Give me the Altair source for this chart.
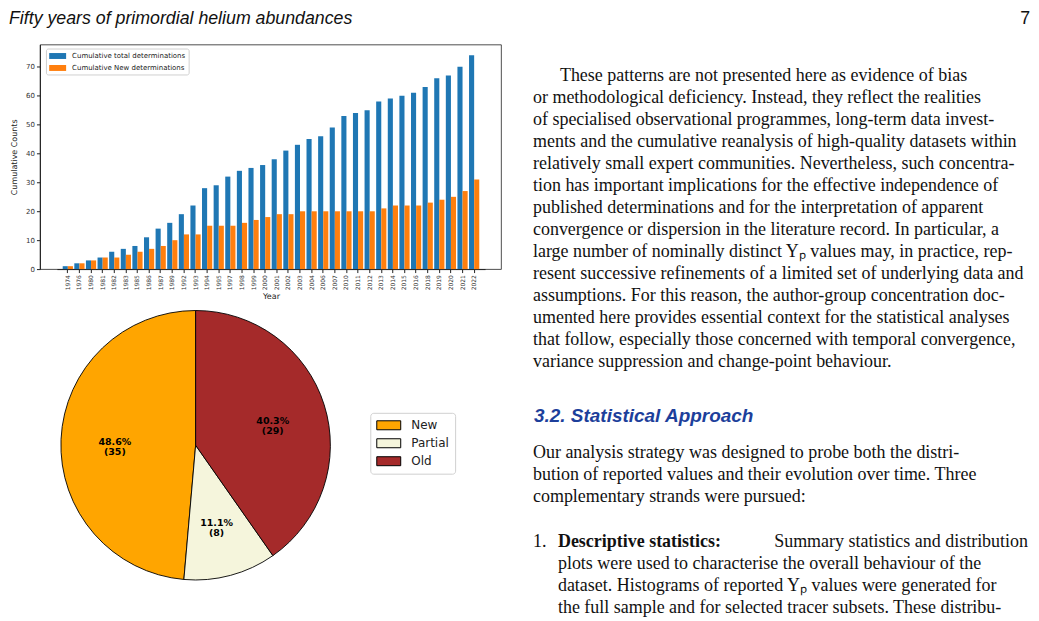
import altair as alt
import pandas as pd

# ---------------- data ----------------
years = [1974, 1976, 1980, 1981, 1982, 1983, 1985, 1986, 1987, 1989, 1992, 1993,
         1994, 1995, 1997, 1998, 1999, 2000, 2001, 2002, 2003, 2004, 2006, 2007,
         2010, 2011, 2012, 2013, 2014, 2015, 2016, 2018, 2019, 2020, 2021, 2022]
cum_total = [1, 2, 3, 4, 6, 7, 8, 11, 14, 16, 19, 22, 28, 29, 32, 34, 35, 36,
             38, 41, 43, 45, 46, 49, 53, 54, 55, 58, 59, 60, 61, 63, 66, 67, 70, 74]
cum_new = [1, 2, 3, 4, 4, 5, 6, 7, 8, 10, 12, 12, 15, 15, 15, 16, 17, 18,
           19, 19, 20, 20, 20, 20, 20, 20, 20, 21, 22, 22, 22, 23, 24, 25, 27, 31]
series_names = ["Cumulative total determinations", "Cumulative New determinations"]
y_ticks = [0, 10, 20, 30, 40, 50, 60, 70]

pie_cats = ["New", "Partial", "Old"]
pie_counts = [35, 8, 29]
pie_colors = ["#FFA500", "#F5F5DC", "#A52A2A"]

header_left = "Fifty years of primordial helium abundances"
header_right = "7"

para1 = [
    "These patterns are not presented here as evidence of bias",
    "or methodological deficiency. Instead, they reflect the realities",
    "of specialised observational programmes, long-term data invest-",
    "ments and the cumulative reanalysis of high-quality datasets within",
    "relatively small expert communities. Nevertheless, such concentra-",
    "tion has important implications for the effective independence of",
    "published determinations and for the interpretation of apparent",
    "convergence or dispersion in the literature record. In particular, a",
    "large number of nominally distinct Yₚ values may, in practice, rep-",
    "resent successive refinements of a limited set of underlying data and",
    "assumptions. For this reason, the author-group concentration doc-",
    "umented here provides essential context for the statistical analyses",
    "that follow, especially those concerned with temporal convergence,",
    "variance suppression and change-point behaviour.",
]
heading = "3.2. Statistical Approach"
para2 = [
    "Our analysis strategy was designed to probe both the distri-",
    "bution of reported values and their evolution over time. Three",
    "complementary strands were pursued:",
]
item_num = "1."
item_bold = "Descriptive statistics:"
item_first = "Summary statistics and distribution"
item_rest = [
    "plots were used to characterise the overall behaviour of the",
    "dataset. Histograms of reported Yₚ values were generated for",
    "the full sample and for selected tracer subsets. These distribu-",
]

# ---------------- bar chart ----------------
bar_df = pd.DataFrame({
    "Year": years + years,
    "count": cum_total + cum_new,
    "series": [series_names[0]] * len(years) + [series_names[1]] * len(years),
})

bar = alt.Chart(bar_df).mark_bar().encode(
    x=alt.X("Year:O", title="Year",
            scale=alt.Scale(paddingInner=0.12, paddingOuter=0.5, range=[17, 446]),
            axis=alt.Axis(labelAngle=-90, labelFontSize=6, labelColor="#333",
                          tickSize=3.5, tickColor="#222", domainColor="#222",
                          labelPadding=2, titleFontSize=8, titleFontWeight="normal",
                          titlePadding=3, titleColor="#222")),
    xOffset=alt.XOffset("series:N", sort=series_names),
    y=alt.Y("count:Q", title="Cumulative Counts",
            scale=alt.Scale(domain=[0, 77.7], nice=False),
            axis=alt.Axis(values=y_ticks, grid=False, labelFontSize=7, labelColor="#333",
                          tickSize=3.5, tickColor="#222", domainColor="#222",
                          labelPadding=2, titleFontSize=8, titleFontWeight="normal",
                          titlePadding=7, titleColor="#222")),
    color=alt.Color("series:N",
                    scale=alt.Scale(domain=series_names, range=["#1f77b4", "#ff7f0e"]),
                    legend=alt.Legend(title=None, orient="none", legendX=6, legendY=4,
                                      symbolType="M-2,-0.7H2V0.7H-2Z", symbolSize=72,
                                      symbolStrokeWidth=0, symbolOffset=4.25,
                                      labelOffset=10, labelFontSize=7, labelColor="#222",
                                      rowPadding=4, padding=3, fillColor="white",
                                      strokeColor="#d0d0d0", cornerRadius=2)),
).properties(width=462, height=225,
             view=alt.ViewBackground(stroke="#222", strokeWidth=0.8))

# ---------------- pie chart ----------------
pie_df = pd.DataFrame({"category": pie_cats, "count": pie_counts})
pie_base = alt.Chart(pie_df).transform_joinaggregate(
    total="sum(count)"
).transform_calculate(
    ord="indexof(['Old','Partial','New'], datum.category)",
    label="format(datum.count / datum.total * 100, '.1f') + '%|(' + datum.count + ')'",
)
arcs = pie_base.mark_arc(outerRadius=135, stroke="black", strokeWidth=0.9).encode(
    theta=alt.Theta("count:Q", stack=True),
    order=alt.Order("ord:Q"),
    color=alt.Color("category:N",
                    scale=alt.Scale(domain=pie_cats, range=pie_colors),
                    legend=alt.Legend(title=None, orient="none", legendX=331, legendY=111,
                                      symbolType="M-2,-0.75H2V0.75H-2Z", symbolSize=144,
                                      symbolStrokeColor="black", symbolStrokeWidth=1,
                                      symbolOffset=6, labelOffset=16, labelFontSize=12,
                                      labelColor="#222", rowPadding=5, padding=6,
                                      fillColor="white", strokeColor="#d0d0d0",
                                      cornerRadius=3)),
)
pie_labels = pie_base.mark_text(radius=81, lineBreak="|", font="DejaVu Sans",
                                fontWeight="bold", fontSize=9.5, lineHeight=10,
                                color="black").encode(
    theta=alt.Theta("count:Q", stack=True),
    order=alt.Order("ord:Q"),
    text="label:N",
)
pie = alt.layer(arcs, pie_labels).properties(width=312, height=287)

# ---------------- text panel ----------------
TW, TH = 490, 569
LH = 22.05
rows = []
for i, t in enumerate(para1):
    rows.append({"text": t, "x": 27 if i == 0 else 0, "y": 36.6 + LH * i, "kind": "body"})
rows.append({"text": heading, "x": 1, "y": 378.5, "kind": "head"})
for i, t in enumerate(para2):
    rows.append({"text": t, "x": 0, "y": 414.3 + LH * i, "kind": "body"})
rows.append({"text": item_num, "x": 0, "y": 503, "kind": "body"})
rows.append({"text": item_bold, "x": 25, "y": 503, "kind": "bold"})
rows.append({"text": item_first, "x": 496, "y": 503, "kind": "bodyright"})
for i, t in enumerate(item_rest):
    rows.append({"text": t, "x": 25, "y": 503 + LH * (i + 1), "kind": "body"})
text_df = pd.DataFrame(rows)

tx = alt.X("x:Q", scale=alt.Scale(domain=[0, TW], range=[0, TW]), axis=None)
ty = alt.Y("y:Q", scale=alt.Scale(domain=[0, TH], range=[0, TH]), axis=None)
tbase = alt.Chart(text_df)
BODY_FONT = 18
body = tbase.transform_filter("datum.kind == 'body'").mark_text(
    align="left", baseline="alphabetic", font="Liberation Serif", fontSize=BODY_FONT,
    color="#111").encode(x=tx, y=ty, text="text:N")
body_r = tbase.transform_filter("datum.kind == 'bodyright'").mark_text(
    align="right", baseline="alphabetic", font="Liberation Serif", fontSize=BODY_FONT,
    color="#111").encode(x=tx, y=ty, text="text:N")
bold = tbase.transform_filter("datum.kind == 'bold'").mark_text(
    align="left", baseline="alphabetic", font="Liberation Serif", fontSize=BODY_FONT,
    fontWeight="bold", color="#111").encode(x=tx, y=ty, text="text:N")
head = tbase.transform_filter("datum.kind == 'head'").mark_text(
    align="left", baseline="alphabetic", font="Liberation Sans", fontSize=19,
    fontWeight="bold", fontStyle="italic", color="#1d3f9b").encode(x=tx, y=ty, text="text:N")
text_panel = alt.layer(body, body_r, bold, head).properties(width=TW, height=TH)

# ---------------- header ----------------
HOFF = 30          # header view is aligned with the bar plot's left edge
HW, HH = 985, 20
hdr_df = pd.DataFrame({"text": [header_left, header_right], "x": [-HOFF - 1, 992],
                       "side": ["left", "right"]})
hx = alt.X("x:Q", scale=alt.Scale(domain=[0, HW], range=[0, HW]), axis=None)
hdr_l = alt.Chart(hdr_df).transform_filter("datum.side == 'left'").mark_text(
    align="left", baseline="top", font="Liberation Sans", fontSize=17.8,
    fontStyle="italic", color="#111", y=0).encode(x=hx, text="text:N")
hdr_r = alt.Chart(hdr_df).transform_filter("datum.side == 'right'").mark_text(
    align="right", baseline="top", font="Liberation Sans", fontSize=17.8,
    color="#111", y=0).encode(x=hx, text="text:N")
header = alt.layer(hdr_l, hdr_r).properties(width=HW, height=HH)

left_col = alt.vconcat(bar, pie, spacing=0).resolve_scale(color="independent").resolve_legend(color="independent")
body_row = alt.hconcat(left_col, text_panel, spacing=30).resolve_scale(color="independent").resolve_legend(color="independent")
chart = alt.vconcat(header, body_row, spacing=13).resolve_scale(
    color="independent"
).resolve_legend(color="independent").properties(
    padding=0
).configure(font="DejaVu Sans").configure_view(stroke="transparent")

chart.save("out.html", embed_options={"renderer": "svg", "actions": False})
